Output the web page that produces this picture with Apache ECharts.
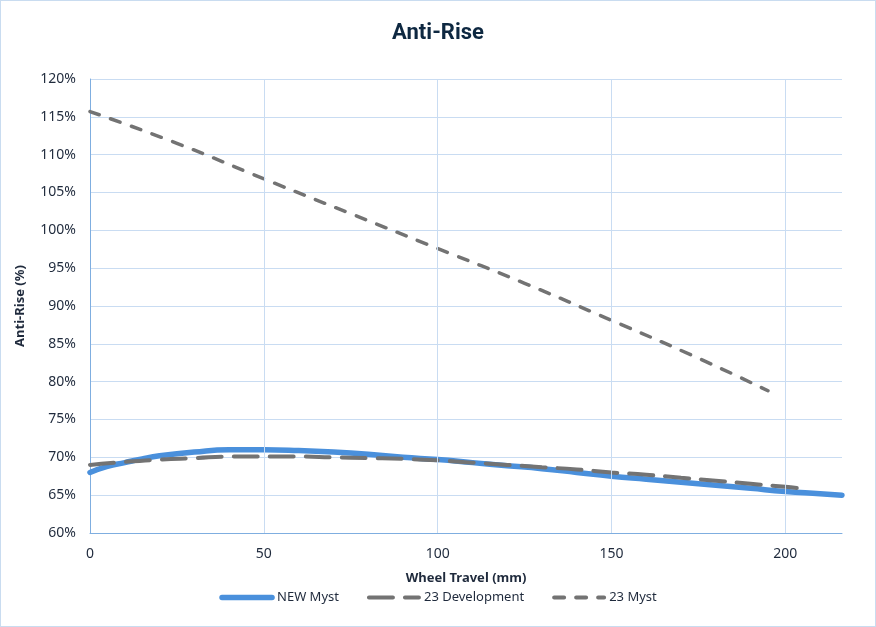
<!DOCTYPE html>
<html>
<head>
<meta charset="utf-8">
<script src="https://cdn.jsdelivr.net/npm/echarts@6/dist/echarts.min.js"></script>
<style>
html,body{margin:0;padding:0;background:#fff;}
#c{width:874px;height:625px;border:1px solid #c9dcf0;}
</style>
</head>
<body>
<div id="c"></div>
<script>
// Wheel travel (mm) and anti-rise (%) values
const newMystX = [0,5,10,15,20,30,40,50,60,70,80,90,100,110,120,130,140,150,160,170,180,190,200,210,216.3];
const newMystY = [68.0,68.8,69.3,69.8,70.2,70.7,71.0,71.0,70.9,70.7,70.4,70.0,69.7,69.3,68.9,68.5,68.0,67.5,67.1,66.7,66.3,65.9,65.5,65.2,65.0];

const dev23X = [0,10,20,30,40,50,60,70,80,90,100,110,120,130,140,150,160,170,180,190,200,204];
const dev23Y = [69.0,69.4,69.7,69.9,70.1,70.1,70.1,70.0,69.9,69.8,69.6,69.3,69.0,68.7,68.4,68.0,67.7,67.3,66.9,66.5,66.1,65.9];

const myst23X = [0,25,50,75,100,125,150,175,195];
const myst23Y = [115.7,111.5,106.8,102.2,97.6,93.0,88.1,83.1,78.8];

const seriesNames = ['NEW Myst','23 Development','23 Myst'];
const xTicks = [0,50,100,150,200];

function pairs(xs, ys){ return xs.map((x,i)=>[x, ys[i]]); }

const chart = echarts.init(document.getElementById('c'));
const textColor = '#1f2a3c';
const gridColor = '#c9dcf2';
const font = '"Noto Sans", "Open Sans", sans-serif';
const legendWidths = [5.5, 4, 4];
chart.setOption({
  animation:false,
  title:{
    text:'Anti-Rise', left:'center', top:16,
    textStyle:{fontSize:22, fontWeight:'bold', color:'#0e2841', fontFamily:'"Liberation Sans Narrow", "Roboto", sans-serif'}
  },
  grid:{left:89, right:33, top:78, bottom:93},
  legend:{
    bottom:17, left:'center', itemWidth:50, itemHeight:10, itemGap:28,
    data:seriesNames.map((n,i)=>({name:n, itemStyle:{opacity:0}, lineStyle:{width:legendWidths[i]}})),
    textStyle:{fontSize:13, color:textColor, fontFamily:font}
  },
  xAxis:{
    type:'value', min:0, max:216.3, interval:50,
    name:'Wheel Travel (mm)', nameLocation:'middle', nameGap:39,
    nameTextStyle:{fontSize:13, fontWeight:'bold', color:textColor, fontFamily:font},
    axisLine:{show:true, lineStyle:{color:'#7faee0', width:1}},
    axisTick:{show:false},
    axisLabel:{margin:14, fontSize:14, color:textColor, fontFamily:font, showMaxLabel:false,
      formatter:v=> xTicks.indexOf(v)>=0 ? String(v) : ''},
    splitLine:{show:false}
  },
  yAxis:{
    type:'value', min:60, max:120, interval:5,
    name:'Anti-Rise (%)', nameLocation:'middle', nameGap:63,
    nameTextStyle:{fontSize:13, fontWeight:'bold', color:textColor, fontFamily:font},
    axisLine:{show:true, lineStyle:{color:'#7faee0', width:1}},
    axisTick:{show:false},
    axisLabel:{margin:14, fontSize:14, color:textColor, fontFamily:font, formatter:'{value}%'},
    splitLine:{show:true, lineStyle:{color:gridColor, width:1}}
  },
  series:[
    {name:'grid', type:'line', data:[], z:0, silent:true,
     markLine:{silent:true, symbol:['none','none'], label:{show:false},
       lineStyle:{color:gridColor, width:1, type:'solid'},
       data:xTicks.filter(v=>v>0).map(v=>({xAxis:v}))}},
    {name:seriesNames[1], type:'line', smooth:true, symbol:'none', z:2,
     data:pairs(dev23X, dev23Y),
     lineStyle:{color:'#737373', width:4, type:[24,12], cap:'round'}, itemStyle:{color:'#737373'}},
    {name:seriesNames[2], type:'line', smooth:true, symbol:'none', z:2,
     data:pairs(myst23X, myst23Y),
     lineStyle:{color:'#737373', width:3.5, type:[10,12], cap:'round'}, itemStyle:{color:'#737373'}},
    {name:seriesNames[0], type:'line', smooth:true, symbol:'none', z:1,
     data:pairs(newMystX, newMystY),
     lineStyle:{color:'#4a90dc', width:5.5, cap:'round'}, itemStyle:{color:'#4a90dc'}}
  ]
});
</script>
</body>
</html>
